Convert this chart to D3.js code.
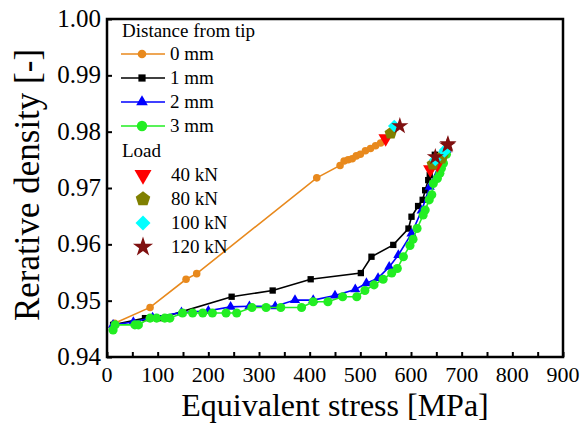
<!DOCTYPE html>
<html>
<head>
<meta charset="utf-8">
<script src="https://cdn.jsdelivr.net/npm/d3@7"></script>
<style>
  body { margin: 0; background: #fff; }
</style>
</head>
<body>
<svg id="chart" width="585" height="423"></svg>
<script>
// data
const stress0 = [15, 85, 156, 177, 414, 460, 468, 476, 484, 492, 500, 510, 520, 530, 540, 548];
const dens0 = [0.946, 0.9488, 0.9538, 0.9548, 0.9718, 0.9740, 0.9748, 0.9750, 0.9752, 0.9757, 0.9760, 0.9766, 0.9770, 0.9775, 0.9780, 0.9786];

const stress1 = [12, 75, 105, 246, 327, 402, 501, 522, 565, 595, 601, 614, 623, 628, 634, 637, 647];
const dens1 = [0.9457, 0.9469, 0.9469, 0.9507, 0.9518, 0.9538, 0.9549, 0.9578, 0.9599, 0.9628, 0.9649, 0.9668, 0.9679, 0.9696, 0.9714, 0.9723, 0.9759];

const stress2 = [12, 52, 90, 147, 200, 244, 281, 332, 371, 407, 450, 490, 512, 535, 557, 575, 601, 621, 637, 654, 670];
const dens2 = [0.9457, 0.9462, 0.9470, 0.9479, 0.9482, 0.9489, 0.9490, 0.9490, 0.9501, 0.9501, 0.9509, 0.9520, 0.9531, 0.9540, 0.9560, 0.9581, 0.9619, 0.9660, 0.9702, 0.9738, 0.9768];

const stress3 = [12, 16, 55, 62, 85, 98, 114, 124, 149, 169, 189, 208, 235, 256, 286, 314, 343, 384, 407, 436, 465, 493, 509, 527, 545, 562, 573, 585, 598, 604, 612, 624, 628, 636, 641, 644, 652, 657, 660, 664, 670];
const dens3 = [0.9448, 0.9457, 0.9457, 0.9457, 0.9469, 0.9469, 0.9469, 0.9469, 0.9478, 0.9478, 0.9478, 0.9478, 0.9478, 0.9478, 0.9488, 0.9488, 0.9488, 0.9488, 0.9498, 0.9498, 0.9507, 0.9507, 0.9518, 0.9528, 0.9538, 0.9549, 0.9557, 0.9578, 0.9598, 0.9609, 0.9628, 0.9652, 0.9661, 0.9679, 0.9688, 0.9708, 0.9717, 0.9726, 0.9735, 0.9744, 0.9760];

// load markers, one point per distance (0, 1, 2, 3 mm)
const load40Stress = [550, 638, 655, 652];
const load40Dens = [0.9788, 0.9733, 0.9748, 0.9742];
const load80Stress = [560, 643, 662, 660];
const load80Dens = [0.9797, 0.9742, 0.9757, 0.9753];
const load100Stress = [567, 648, 668, 666];
const load100Dens = [0.9810, 0.9750, 0.9768, 0.9765];
const load120Stress = [578, 648, 673, 672];
const load120Dens = [0.9810, 0.9755, 0.9778, 0.9776];

const distanceLabels = ["0 mm", "1 mm", "2 mm", "3 mm"];
const loadLabels = ["40 kN", "80 kN", "100 kN", "120 kN"];
const xTicks = [0, 100, 200, 300, 400, 500, 600, 700, 800, 900];
const yTicks = [0.94, 0.95, 0.96, 0.97, 0.98, 0.99, 1.00];

const FONT = "Liberation Serif";

const margin = { left: 107, right: 22, top: 19, bottom: 66 };
const width = 585, height = 423;
const svg = d3.select("#chart");

const x = d3.scaleLinear().domain([0, 900]).range([margin.left, width - margin.right]);
const y = d3.scaleLinear().domain([0.94, 1.0]).range([height - margin.bottom, margin.top]);

// symbols
function pentagon(size) {
  const r = Math.sqrt(size / 2.38);
  const pts = d3.range(5).map((i) => {
    const a = -Math.PI / 2 + (i * 2 * Math.PI) / 5;
    return [r * Math.cos(a), r * Math.sin(a)];
  });
  return "M" + pts.map((p) => p.join(",")).join("L") + "Z";
}
const sym = {
  circle: (s) => d3.symbol(d3.symbolCircle, s)(),
  square: (s) => d3.symbol(d3.symbolSquare, s)(),
  triangle: (s) => d3.symbol(d3.symbolTriangle, s)(),
  down: (s) => d3.symbol(d3.symbolTriangle, s)(),
  pentagon: (s) => pentagon(s),
  diamond: (s) => d3.symbol(d3.symbolSquare, s)(),
  star: (s) => d3.symbol(d3.symbolStar, s)(),
};
const symRot = { down: 180, diamond: 45 };

const series = [
  { xs: stress0, ys: dens0, color: "#e8891d", shape: "circle", size: 45 },
  { xs: stress1, ys: dens1, color: "#000000", shape: "square", size: 40 },
  { xs: stress2, ys: dens2, color: "#0000ff", shape: "triangle", size: 45 },
  { xs: stress3, ys: dens3, color: "#22ee22", shape: "circle", size: 65 },
];
const loads = [
  { xs: load40Stress, ys: load40Dens, color: "#ff0000", shape: "down", size: 90 },
  { xs: load80Stress, ys: load80Dens, color: "#808000", shape: "pentagon", size: 100 },
  { xs: load100Stress, ys: load100Dens, color: "#00ffff", shape: "diamond", size: 80 },
  { xs: load120Stress, ys: load120Dens, color: "#7f1010", shape: "star", size: 90 },
];

function drawSymbol(g, shape, size, color, px, py) {
  g.append("path")
    .attr("d", sym[shape](size))
    .attr("fill", color)
    .attr("transform", `translate(${px},${py}) rotate(${symRot[shape] || 0})`);
}

function addText(g, tx, ty, str, size, anchor) {
  return g.append("text")
    .attr("x", tx)
    .attr("y", ty)
    .attr("text-anchor", anchor || "start")
    .attr("font-family", FONT)
    .attr("font-size", size)
    .attr("fill", "#000")
    .text(str);
}

const line = d3.line().x((d) => x(d[0])).y((d) => y(d[1]));
const plot = svg.append("g");

series.forEach((s) => {
  const pts = s.xs.map((v, i) => [v, s.ys[i]]);
  plot.append("path")
    .attr("d", line(pts))
    .attr("fill", "none")
    .attr("stroke", s.color)
    .attr("stroke-width", 1.6);
  pts.forEach((p) => drawSymbol(plot, s.shape, s.size, s.color, x(p[0]), y(p[1])));
});

loads.forEach((l) => {
  l.xs.forEach((v, i) => drawSymbol(plot, l.shape, l.size, l.color, x(v), y(l.ys[i])));
});

// axes with inward ticks
const xAxis = svg.append("g")
  .attr("transform", `translate(0,${y(0.94)})`)
  .call(d3.axisBottom(x).tickValues(d3.range(0, 901, 50)).tickSize(-5).tickFormat(""));
xAxis.selectAll(".domain").remove();
xAxis.selectAll("line").attr("stroke-width", 2);

const yAxis = svg.append("g")
  .attr("transform", `translate(${x(0)},0)`)
  .call(d3.axisLeft(y).tickValues(yTicks).tickSize(-5).tickFormat(""));
yAxis.selectAll(".domain").remove();
yAxis.selectAll("line").attr("stroke-width", 2);

svg.append("rect")
  .attr("x", x(0))
  .attr("y", y(1.0))
  .attr("width", x(900) - x(0))
  .attr("height", y(0.94) - y(1.0))
  .attr("fill", "none")
  .attr("stroke", "#000")
  .attr("stroke-width", 2.5);

xTicks.forEach((d) => addText(svg, x(d), y(0.94) + 25, d, 22, "middle"));
yTicks.forEach((d) => addText(svg, x(0) - 6, y(d) + 8, d.toFixed(2), 25, "end"));

addText(svg, (x(0) + x(900)) / 2, 416, "Equivalent stress [MPa]", 32, "middle");
addText(svg, 0, 0, "Rerative density [-]", 35, "middle")
  .attr("transform", `translate(39,${(y(0.94) + y(1.0)) / 2 - 3}) rotate(-90)`);

// legend
const leg = svg.append("g");
addText(leg, 122, 37, "Distance from tip", 19);
series.forEach((s, i) => {
  const ly = 54 + i * 24;
  leg.append("line")
    .attr("x1", 121).attr("x2", 165).attr("y1", ly).attr("y2", ly)
    .attr("stroke", s.color).attr("stroke-width", 1.6);
  drawSymbol(leg, s.shape, s.size * 1.3, s.color, 142, ly);
  addText(leg, 170, ly + 6, distanceLabels[i], 19);
});
addText(leg, 122, 157, "Load", 19);
loads.forEach((l, i) => {
  const ly = 175 + i * 24;
  drawSymbol(leg, l.shape, l.size * 1.4, l.color, 143, ly);
  addText(leg, 171, ly + 6, loadLabels[i], 19);
});
</script>
</body>
</html>
